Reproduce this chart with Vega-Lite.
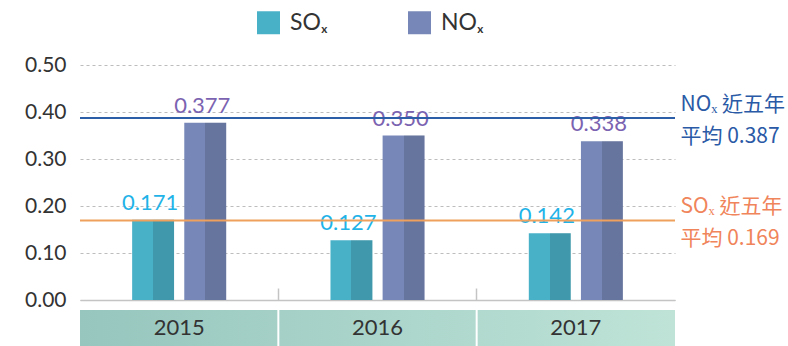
{
  "$schema": "https://vega.github.io/schema/vega-lite/v6.json",
  "autosize": {"type": "pad"},
  "padding": {"left": 24, "top": 11, "right": 0, "bottom": 0},
  "config": {"view": {"stroke": null}, "font": "Lato"},
  "datasets": {
    "emissions": [
      {"year": "2015", "gas": "SOₓ", "value": 0.171},
      {"year": "2015", "gas": "NOₓ", "value": 0.377},
      {"year": "2016", "gas": "SOₓ", "value": 0.127},
      {"year": "2016", "gas": "NOₓ", "value": 0.350},
      {"year": "2017", "gas": "SOₓ", "value": 0.142},
      {"year": "2017", "gas": "NOₓ", "value": 0.338}
    ],
    "averages": [
      {"gas": "NOₓ", "avg": 0.387},
      {"gas": "SOₓ", "avg": 0.169}
    ],
    "years": [{"year": "2015"}, {"year": "2016"}, {"year": "2017"}]
  },
  "bounds": "flush",
  "spacing": 10,
  "vconcat": [
    {
      "width": 595,
      "height": 235,
      "layer": [
        {
          "data": {"name": "emissions"},
          "mark": {"type": "bar"},
          "encoding": {
            "x": {
              "field": "year", "type": "nominal",
              "scale": {"domain": ["2015", "2016", "2017"], "paddingInner": 0, "paddingOuter": 0},
              "axis": {
                "title": null, "labels": false, "grid": false,
                "domain": true, "domainColor": "#c4c4c4", "domainWidth": 1.5,
                "ticks": true, "tickSize": -12, "tickWidth": 1.5, "bandPosition": 0,
                "tickColor": {"condition": {"test": "datum.value === '2015'", "value": "transparent"}, "value": "#c4c4c4"}
              }
            },
            "xOffset": {"field": "gas", "scale": {"domain": ["SOₓ", "NOₓ"], "paddingInner": 0.196, "paddingOuter": 1.05}},
            "y": {
              "field": "value", "type": "quantitative",
              "scale": {"domain": [0, 0.5]},
              "axis": {
                "title": null, "values": [0, 0.1, 0.2, 0.3, 0.4, 0.5], "format": ".2f",
                "domain": false, "ticks": false, "labelPadding": 14,
                "labelFontSize": 21, "labelColor": "#333333", "labelFont": "Lato",
                "grid": true, "gridColor": "#bdbdbd", "gridDash": [3, 3], "gridWidth": 1
              }
            },
            "color": {
              "field": "gas", "type": "nominal",
              "scale": {"domain": ["SOₓ", "NOₓ"], "range": ["#49b1c7", "#7788b8"]},
              "legend": {
                "orient": "none", "legendX": 177, "legendY": -54, "direction": "horizontal",
                "title": null, "symbolType": "square", "symbolSize": 529, "symbolStrokeWidth": 0,
                "labelFontSize": 23, "labelColor": "#333333", "labelFont": "Lato",
                "labelOffset": 10, "columnPadding": 80
              }
            }
          }
        },
        {
          "data": {"name": "emissions"},
          "mark": {
            "type": "bar",
            "color": {
              "gradient": "linear", "x1": 0, "x2": 1, "y1": 0, "y2": 0,
              "stops": [
                {"offset": 0, "color": "rgba(0,0,0,0)"},
                {"offset": 0.5, "color": "rgba(0,0,0,0)"},
                {"offset": 0.5, "color": "rgba(0,0,0,0.14)"},
                {"offset": 1, "color": "rgba(0,0,0,0.14)"}
              ]
            }
          },
          "encoding": {
            "x": {"field": "year", "type": "nominal"},
            "xOffset": {"field": "gas"},
            "y": {"field": "value", "type": "quantitative", "scale": {"domain": [0, 0.5]}, "axis": null}
          }
        },
        {
          "data": {"name": "emissions"},
          "mark": {"type": "text", "baseline": "alphabetic", "dy": -10, "dx": -3, "fontSize": 22, "font": "Lato"},
          "encoding": {
            "x": {"field": "year", "type": "nominal"},
            "xOffset": {"field": "gas"},
            "y": {"field": "value", "type": "quantitative", "scale": {"domain": [0, 0.5]}, "axis": null},
            "text": {"field": "value", "type": "quantitative", "format": ".3f"},
            "color": {"condition": {"test": "datum.gas === 'SOₓ'", "value": "#1fb3e8"}, "value": "#7b63b1"}
          }
        },
        {
          "data": {"name": "averages"},
          "mark": {"type": "rule", "strokeWidth": 2},
          "encoding": {
            "y": {
              "field": "avg", "type": "quantitative",
              "scale": {"domain": [0, 0.5]},
              "axis": {
                "orient": "right", "title": null, "values": [0.169, 0.387],
                "labelExpr": "[(datum.value > 0.3 ? 'NOₓ' : 'SOₓ') + ' 近五年', '平均 ' + format(datum.value, '.3f')]",
                "labelColor": {"condition": {"test": "datum.value > 0.3", "value": "#2a5aa6"}, "value": "#f0845a"},
                "labelFont": "Noto Sans CJK TC", "labelFontSize": 21, "labelLineHeight": 32,
                "labelPadding": 5, "labelAlign": "left", "labelBaseline": "middle", "labelOffset": -14,
                "ticks": false, "domain": false, "grid": false
              }
            },
            "stroke": {
              "field": "gas", "type": "nominal",
              "scale": {"domain": ["NOₓ", "SOₓ"], "range": ["#2c5ea8", "#eea05c"]},
              "legend": null
            }
          }
        }
      ],
      "resolve": {"scale": {"y": "independent"}}
    },
    {
      "width": 595,
      "height": 36,
      "data": {"name": "years"},
      "layer": [
        {
          "mark": {
            "type": "rect",
            "color": {
              "gradient": "linear", "x1": 0, "x2": 1, "y1": 0, "y2": 0,
              "stops": [
                {"offset": 0, "color": "#96c6be"},
                {"offset": 1, "color": "#bfe3d7"}
              ]
            }
          },
          "encoding": {}
        },
        {
          "transform": [{"filter": "datum.year !== '2015'"}],
          "mark": {"type": "rule", "color": "#ffffff", "strokeWidth": 2},
          "encoding": {
            "x": {
              "field": "year", "type": "nominal", "bandPosition": 0,
              "scale": {"domain": ["2015", "2016", "2017"], "paddingInner": 0, "paddingOuter": 0},
              "axis": null
            }
          }
        },
        {
          "mark": {"type": "text", "fontSize": 22, "color": "#333333", "font": "Lato", "baseline": "middle"},
          "encoding": {
            "x": {"field": "year", "type": "nominal", "axis": null},
            "text": {"field": "year"}
          }
        }
      ]
    }
  ]
}
